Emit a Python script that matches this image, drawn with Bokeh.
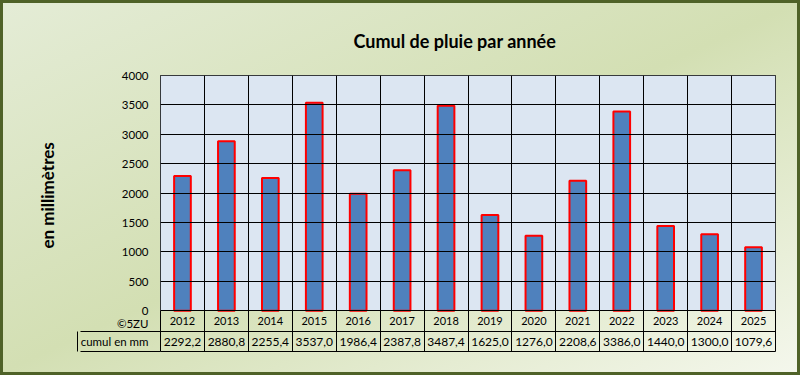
from bokeh.plotting import figure
from bokeh.layouts import column
from bokeh.models import Range1d, FixedTicker, ColumnDataSource, LinearAxis, Grid, Title
from bokeh.core.properties import value
from bokeh.embed import file_html
from bokeh.resources import INLINE

# ---- data ----
years = [2012, 2013, 2014, 2015, 2016, 2017, 2018, 2019, 2020, 2021, 2022, 2023, 2024, 2025]
rain_mm = [2292.2, 2880.8, 2255.4, 3537.0, 1986.4, 2387.8, 3487.4, 1625.0, 1276.0, 2208.6, 3386.0, 1440.0, 1300.0, 1079.6]
y_ticks = [0, 500, 1000, 1500, 2000, 2500, 3000, 3500, 4000]
title_text = "Cumul de pluie par année"
y_label = "en millimètres"
row_label = "cumul en mm"
credit = "©5ZU"

FONT = "Lato"
year_text = [str(y) for y in years]
val_text = [f"{v:.1f}".replace(".", ",") for v in rain_mm]

# table rows live below zero on the value scale
Y_MIN = -695          # bottom of the data table
Y_ROW = -356          # line between the two table rows
Y_YEARS = -178        # centre of the year row
Y_VALUES = -525       # centre of the value row
Y_CREDIT = -215

x0 = years[0] - 0.5
x1 = years[-1] + 0.5
bounds = [y - 0.5 for y in years] + [x1]

src = ColumnDataSource(dict(x=years, top=rain_mm, yr=year_text, val=val_text))

p = figure(width=794, height=369, x_range=Range1d(x0, x1), y_range=Range1d(Y_MIN, y_ticks[-1]),
           output_backend="svg", toolbar_location=None, title=title_text,
           x_axis_type=None, y_axis_type=None,
           min_border_left=157, min_border_right=22, min_border_top=71, min_border_bottom=21)
p.border_fill_alpha = 0
p.background_fill_alpha = 0
p.outline_line_color = "black"
p.outline_line_width = 1

p.title.align = "left"
p.title.offset = 193
p.title.text_font = FONT
p.title.text_font_style = "bold"
p.title.text_font_size = "18px"
p.title.text_color = "black"
p.title.standoff = 48

# plot-area background
p.quad(left=[x0], right=[x1], bottom=[y_ticks[0]], top=[y_ticks[-1]],
       fill_color="#dce6f2", line_color=None, level="underlay")

# grid lines (above background, below bars)
p.add_layout(Grid(dimension=1, ticker=FixedTicker(ticks=y_ticks + [Y_ROW]),
                  grid_line_color="black", level="glyph"))
p.add_layout(Grid(dimension=0, ticker=FixedTicker(ticks=years, minor_ticks=bounds),
                  grid_line_color=None, minor_grid_line_color="black", level="glyph"))

# bars
p.vbar(x="x", top="top", width=0.38, source=src,
       fill_color="#4f81bd", line_color="#ff0000", line_width=2)

# data table texts
p.text(x="x", y=Y_YEARS, text="yr", source=src, text_align="center", text_baseline="middle",
       text_font=value(FONT), text_font_size="11px", text_color="black")
p.text(x="x", y=Y_VALUES, text="val", source=src, text_align="center", text_baseline="middle",
       text_font=value(FONT), text_font_size="12px", text_color="black")

# value axis (with the table row header and credit as extra labels);
# minor ticks draw the header cell's top and bottom edges
overrides = {Y_VALUES: row_label, Y_CREDIT: credit}
ax1 = LinearAxis(ticker=FixedTicker(ticks=y_ticks + [Y_CREDIT, Y_VALUES], minor_ticks=[Y_ROW, Y_MIN]),
                 major_label_overrides=overrides)
ax1.axis_line_color = None
ax1.major_tick_out = 0
ax1.major_tick_in = 0
ax1.minor_tick_in = 0
ax1.minor_tick_out = 80
ax1.minor_tick_line_color = "black"
ax1.major_label_standoff = -68
ax1.major_label_text_font = FONT
ax1.major_label_text_font_size = "11.5px"
ax1.major_label_text_color = "black"
p.add_layout(ax1, "left")

# left edge of the table header cell
ax2 = LinearAxis(ticker=FixedTicker(ticks=[], minor_ticks=[]), bounds=(Y_MIN, Y_ROW))
ax2.axis_line_color = "black"
ax2.major_tick_out = 0
ax2.major_tick_in = 0
ax2.minor_tick_out = 0
ax2.minor_tick_in = 0
ax2.major_label_standoff = 0
p.add_layout(ax2, "left")

# axis title
yt = Title(text=y_label, align="left", offset=103, standoff=40, vertical_align="bottom",
           text_font=FONT, text_font_style="bold", text_font_size="17px", text_color="black")
p.add_layout(yt, "left")

layout = column(p, spacing=0, styles={
    "background": "linear-gradient(to bottom right, #e4ecd6 0%, #d3dfb3 50%, #f4f7ec 100%)",
    "border": "3px solid #4f6228",
})

open("out.html", "w").write(file_html(layout, INLINE))
